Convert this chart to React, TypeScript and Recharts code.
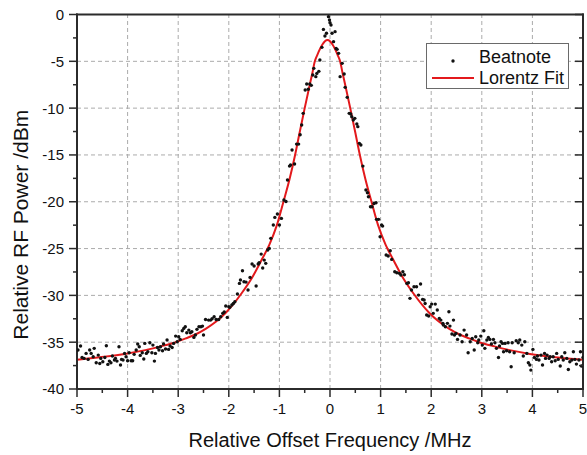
import {
  ComposedChart,
  Legend,
  Line,
  ReferenceLine,
  Scatter,
  XAxis,
  YAxis,
} from "recharts";

type Pair = [number, number];

// tick positions (majors every 1 MHz / 5 dB, minors in between)
const xTicks = [-5, -4.5, -4, -3.5, -3, -2.5, -2, -1.5, -1, -0.5, 0, 0.5, 1, 1.5, 2, 2.5, 3, 3.5, 4, 4.5, 5];
const yTicks = [-40, -37.5, -35, -32.5, -30, -27.5, -25, -22.5, -20, -17.5, -15, -12.5, -10, -7.5, -5, -2.5, 0];
const xGrid = [-4, -3, -2, -1, 0, 1, 2, 3, 4];
const yGrid = [-35, -30, -25, -20, -15, -10, -5];

const leftTail: Pair[] = [
  [-4.98, -35.84], [-4.93, -35.41], [-4.9, -36.63], [-4.86, -36.73], [-4.82, -36.2], [-4.78, -36.84],
  [-4.75, -35.84], [-4.72, -36.2], [-4.68, -36.55], [-4.66, -35.66], [-4.62, -37.2], [-4.58, -36.38],
  [-4.55, -37.27], [-4.53, -36.73], [-4.49, -37.09], [-4.45, -36.63], [-4.42, -35.38], [-4.39, -37.37],
  [-4.36, -37.02], [-4.33, -37.2], [-4.3, -36.48], [-4.26, -36.91], [-4.24, -36.73], [-4.21, -37.02],
  [-4.17, -35.49], [-4.14, -37.44], [-4.12, -36.84], [-4.09, -36.91], [-4.06, -36.2], [-4.03, -36.55],
  [-4.0, -36.98], [-3.97, -36.13], [-3.93, -36.98], [-3.9, -36.98], [-3.87, -36.3], [-3.83, -35.84],
  [-3.8, -35.2], [-3.77, -35.49], [-3.75, -36.41], [-3.71, -36.13], [-3.68, -36.8], [-3.66, -35.13],
  [-3.63, -36.2], [-3.6, -36.02], [-3.56, -35.06], [-3.52, -36.13], [-3.5, -35.31], [-3.47, -37.02],
  [-3.45, -36.2], [-3.41, -35.56], [-3.38, -35.84], [-3.35, -35.49], [-3.31, -35.91], [-3.29, -35.2],
  [-3.25, -35.73], [-3.22, -34.77], [-3.19, -35.77], [-3.16, -35.41], [-3.12, -35.56], [-3.09, -35.13],
  [-3.05, -34.35], [-3.02, -34.95], [-2.99, -34.42], [-2.96, -34.7], [-2.92, -33.78], [-2.89, -33.53],
  [-2.86, -33.35], [-2.83, -33.99], [-2.79, -33.71], [-2.76, -33.99], [-2.73, -33.88], [-2.69, -34.49],
  [-2.66, -34.24], [-2.63, -33.63], [-2.59, -33.35], [-2.55, -33.35], [-2.52, -33.28], [-2.5, -34.24],
  [-2.46, -32.57],
];

const leftSlope: Pair[] = [
  [-2.4, -32.64], [-2.36, -32.64], [-2.33, -32.49], [-2.29, -32.28], [-2.25, -32.57], [-2.2, -32.57],
  [-2.16, -32.28], [-2.12, -31.92], [-2.09, -31.78], [-2.06, -31.14], [-2.03, -32.35], [-2.0, -31.21],
  [-1.98, -31.28], [-1.94, -31.03], [-1.91, -30.86], [-1.88, -30.68], [-1.83, -29.86], [-1.79, -28.72],
  [-1.77, -28.36], [-1.73, -27.37], [-1.7, -28.54], [-1.66, -28.58], [-1.62, -29.43], [-1.58, -28.08],
  [-1.54, -26.65], [-1.5, -26.87], [-1.46, -29.0], [-1.42, -26.65], [-1.4, -26.51], [-1.36, -25.59],
  [-1.33, -27.08], [-1.3, -26.23], [-1.27, -26.58], [-1.23, -25.16], [-1.2, -24.98],
];

const peak: Pair[] = [
  [-1.17, -23.91], [-1.12, -22.49], [-1.09, -21.67], [-1.04, -21.31], [-1.0, -22.49], [-0.96, -21.78],
  [-0.91, -19.82], [-0.87, -19.98], [-0.84, -17.68], [-0.8, -16.19], [-0.78, -16.08], [-0.75, -14.48],
  [-0.7, -15.97], [-0.66, -13.84], [-0.62, -13.84], [-0.59, -12.84], [-0.56, -11.81], [-0.53, -10.56],
  [-0.49, -8.07], [-0.46, -7.43], [-0.43, -7.98], [-0.4, -7.43], [-0.37, -7.57], [-0.34, -6.46],
  [-0.32, -5.75], [-0.28, -6.64], [-0.26, -6.29], [-0.22, -6.07], [-0.2, -4.86], [-0.16, -3.51],
  [-0.13, -1.59], [-0.1, -2.3], [-0.07, -2.01], [-0.03, -0.23], [-0.01, -0.59], [0.0, -0.87],
  [0.02, -1.12], [0.04, -2.01], [0.07, -2.9], [0.1, -1.83], [0.12, -3.62], [0.14, -3.72],
  [0.17, -4.15], [0.2, -6.64], [0.24, -5.22], [0.28, -6.36], [0.3, -7.78], [0.34, -8.85],
  [0.38, -10.56], [0.41, -10.63], [0.43, -10.92], [0.46, -11.27], [0.49, -11.09], [0.53, -11.7],
  [0.55, -11.98], [0.58, -13.76], [0.61, -13.94], [0.65, -16.19], [0.71, -18.75], [0.74, -19.04],
  [0.76, -19.46], [0.8, -20.53], [0.83, -20.53], [0.87, -20.18], [0.91, -20.1], [0.92, -21.88],
  [0.96, -21.88], [0.99, -23.74], [1.02, -22.49], [1.04, -22.6],
];

const rightSlope: Pair[] = [
  [1.11, -25.69], [1.15, -25.8], [1.19, -25.23], [1.22, -26.16], [1.28, -27.47], [1.32, -27.58],
  [1.37, -27.65], [1.4, -27.83], [1.44, -27.47], [1.47, -27.79], [1.52, -28.72], [1.55, -28.65],
  [1.58, -30.32], [1.61, -29.43], [1.66, -29.08], [1.71, -29.08], [1.75, -29.97], [1.79, -28.79],
  [1.83, -30.43], [1.86, -30.5], [1.88, -30.86], [1.91, -32.1], [1.95, -32.21], [1.98, -31.21],
  [2.01, -30.93], [2.04, -31.92], [2.08, -30.93], [2.12, -31.57], [2.16, -32.46], [2.19, -32.64],
  [2.23, -32.99], [2.24, -33.17], [2.28, -33.35], [2.32, -32.99], [2.35, -31.75], [2.37, -33.28],
  [2.41, -34.13], [2.44, -32.64], [2.46, -34.24],
];

const rightTail: Pair[] = [
  [2.49, -34.06], [2.52, -34.7], [2.57, -34.24], [2.61, -34.95], [2.65, -33.71], [2.7, -34.24],
  [2.73, -36.13], [2.77, -34.95], [2.81, -34.6], [2.85, -35.84], [2.88, -34.42], [2.92, -35.06],
  [2.94, -34.77], [2.98, -34.35], [3.01, -35.31], [3.04, -33.78], [3.06, -35.66], [3.1, -34.77],
  [3.13, -34.49], [3.16, -34.7], [3.19, -35.2], [3.23, -34.7], [3.26, -35.06], [3.29, -35.66],
  [3.33, -36.63], [3.35, -35.41], [3.38, -34.95], [3.41, -35.13], [3.43, -36.02], [3.46, -35.13],
  [3.49, -35.91], [3.52, -35.06], [3.55, -36.02], [3.58, -37.62], [3.6, -35.06], [3.64, -36.13],
  [3.68, -34.84], [3.72, -35.06], [3.75, -34.77], [3.79, -35.31], [3.82, -36.48], [3.85, -34.95],
  [3.89, -36.2], [3.92, -37.2], [3.95, -37.44], [3.97, -37.98], [4.01, -35.77], [4.04, -36.63],
  [4.08, -36.84], [4.1, -36.48], [4.13, -36.91], [4.17, -36.38], [4.2, -37.44], [4.24, -36.2],
  [4.26, -36.73], [4.29, -36.38], [4.33, -36.73], [4.35, -36.55], [4.38, -37.09], [4.41, -36.55],
  [4.45, -36.98], [4.48, -36.2], [4.51, -36.84], [4.55, -37.55], [4.58, -36.55], [4.61, -36.91],
  [4.64, -36.13], [4.68, -36.73], [4.71, -37.91], [4.74, -37.09], [4.78, -36.91], [4.81, -36.02],
  [4.84, -36.84], [4.87, -37.34], [4.92, -36.91], [4.95, -36.02], [4.97, -37.55], [5.0, -36.63],
];

// Lorentz fit curve
const fitX = [
  -5, -4.55, -4.05, -3.65, -3.35, -3.05, -2.85, -2.65, -2.45, -2.25, -2.05, -1.75, -1.55, -1.35, -1.2,
  -1.05, -0.92, -0.8, -0.69, -0.6, -0.5, -0.4, -0.35, -0.3, -0.25, -0.15, -0.1, -0.05, 0, 0.05, 0.15,
  0.2, 0.25, 0.3, 0.4, 0.5, 0.59, 0.7, 0.82, 0.95, 1.1, 1.25, 1.45, 1.65, 1.95, 2.15, 2.35, 2.55, 2.75,
  2.95, 3.25, 3.55, 3.95, 4.45, 5,
];
const fitY = [
  -36.87, -36.6, -36.25, -35.85, -35.45, -35.0, -34.6, -34.15, -33.55, -32.8, -31.8, -29.8, -28.2, -26.2, -24.6,
  -22.5, -20.0, -17.6, -15.0, -12.6, -10.0, -7.5, -6.3, -5.0, -4.3, -3.2, -2.85, -2.72, -2.85, -3.2, -4.3,
  -5.0, -6.3, -7.5, -10.0, -12.6, -15.0, -17.6, -20.0, -22.5, -24.6, -26.2, -28.2, -29.8, -31.8, -32.8, -33.55, -34.15, -34.6,
  -35.0, -35.45, -35.85, -36.25, -36.6, -36.87,
];

const beatnote = [...leftTail, ...leftSlope, ...peak, ...rightSlope, ...rightTail].map(([x, y]) => ({ x, y }));
const fit = fitX.map((x, i) => ({ x, y: fitY[i] }));

const FONT = "'Liberation Sans', Arial, sans-serif";
const FRAME = "#2b2b2b";
const TEXT = "#111";
const RED = "#e3191c";

const isMajor = (v: number) => Number.isInteger(v);

function BottomTick({ x, y, payload }: any) {
  const major = isMajor(payload.value);
  return (
    <g>
      <line x1={x} x2={x} y1={y} y2={y + (major ? 8 : 4)} stroke={FRAME} strokeWidth={1.5} />
      {major && (
        <text x={x} y={y + 25} textAnchor="middle" fontSize={15} fontFamily={FONT} fill={TEXT}>
          {payload.value}
        </text>
      )}
    </g>
  );
}

function TopTick({ x, y, payload }: any) {
  const major = isMajor(payload.value);
  return <line x1={x} x2={x} y1={y} y2={y + (major ? 8 : 4)} stroke={FRAME} strokeWidth={1.5} />;
}

function LeftTick({ x, y, payload }: any) {
  const major = payload.value % 5 === 0;
  return (
    <g>
      <line x1={x} x2={x - (major ? 8 : 4)} y1={y} y2={y} stroke={FRAME} strokeWidth={1.5} />
      {major && (
        <text x={x - 13} y={y} dy="0.36em" textAnchor="end" fontSize={15} fontFamily={FONT} fill={TEXT}>
          {payload.value}
        </text>
      )}
    </g>
  );
}

function RightTick({ x, y, payload }: any) {
  const major = payload.value % 5 === 0;
  return <line x1={x} x2={x - (major ? 8 : 4)} y1={y} y2={y} stroke={FRAME} strokeWidth={1.5} />;
}

function YTitle({ viewBox }: any) {
  const cx = viewBox.x + 28;
  const cy = viewBox.y + viewBox.height / 2 + 23;
  return (
    <text
      x={cx}
      y={cy}
      transform={`rotate(-90 ${cx} ${cy})`}
      textAnchor="middle"
      fontSize={21}
      fontFamily={FONT}
      fill={TEXT}
    >
      Relative RF Power /dBm
    </text>
  );
}

function XTitle({ viewBox }: any) {
  return (
    <text
      x={viewBox.x + viewBox.width / 2}
      y={viewBox.y + viewBox.height - 8}
      textAnchor="middle"
      fontSize={20}
      fontFamily={FONT}
      fill={TEXT}
    >
      Relative Offset Frequency /MHz
    </text>
  );
}

function LegendBox({ payload }: any) {
  const items = payload || [];
  const dot = items.find((p: any) => p.type === "circle");
  const line = items.find((p: any) => p.type === "line");
  return (
    <svg width={143} height={46} style={{ display: "block" }}>
      <rect x={0.5} y={0.5} width={142} height={45} fill="#fff" stroke="#6a6a6a" />
      {dot && (
        <g>
          <circle cx={27} cy={18} r={1.7} fill={TEXT} />
          <text x={53} y={20} fontSize={18} fontFamily={FONT} fill={TEXT}>{dot.value}</text>
        </g>
      )}
      {line && (
        <g>
          <line x1={6} x2={48} y1={35} y2={35} stroke={RED} strokeWidth={1.8} />
          <text x={53} y={41} fontSize={18} fontFamily={FONT} fill={TEXT}>{line.value}</text>
        </g>
      )}
    </svg>
  );
}

const axisLine = { stroke: FRAME, strokeWidth: 2, strokeLinecap: "square" as const };

export default function App() {
  return (
    <div style={{ position: "absolute", left: 0, top: 0, width: 587, height: 455, background: "#fff", fontFamily: FONT }}>
      <ComposedChart width={587} height={455} margin={{ top: 0, right: 0, bottom: 0, left: 0 }}>
        {xGrid.map((v) => (
          <ReferenceLine key={`gx${v}`} x={v} stroke="#ababab" strokeDasharray="4 3" strokeWidth={1} />
        ))}
        {yGrid.map((v) => (
          <ReferenceLine key={`gy${v}`} y={v} stroke="#ababab" strokeDasharray="4 3" strokeWidth={1} />
        ))}
        <XAxis
          dataKey="x"
          type="number"
          domain={[-5, 5]}
          ticks={xTicks}
          interval={0}
          allowDataOverflow
          height={66}
          axisLine={axisLine}
          tickLine={false}
          tickSize={0}
          tickMargin={0}
          tick={<BottomTick />}
          label={<XTitle />}
        />
        <XAxis
          xAxisId="top"
          orientation="top"
          type="number"
          domain={[-5, 5]}
          ticks={xTicks}
          interval={0}
          allowDataOverflow
          height={14.5}
          axisLine={axisLine}
          tickLine={false}
          tickSize={0}
          tickMargin={0}
          tick={<TopTick />}
        />
        <YAxis
          dataKey="y"
          type="number"
          domain={[-40, 0]}
          ticks={yTicks}
          interval={0}
          allowDataOverflow
          width={77}
          axisLine={axisLine}
          tickLine={false}
          tickSize={0}
          tickMargin={0}
          tick={<LeftTick />}
          label={<YTitle />}
        />
        <YAxis
          yAxisId="right"
          orientation="right"
          type="number"
          domain={[-40, 0]}
          ticks={yTicks}
          interval={0}
          allowDataOverflow
          width={4}
          axisLine={axisLine}
          tickLine={false}
          tickSize={0}
          tickMargin={0}
          tick={<RightTick />}
        />
        <Scatter
          name="Beatnote"
          data={beatnote}
          fill={TEXT}
          legendType="circle"
          isAnimationActive={false}
          shape={(p: any) => <circle cx={p.cx} cy={p.cy} r={1.7} fill={TEXT} />}
        />
        <Line
          name="Lorentz Fit"
          data={fit}
          dataKey="y"
          type="monotone"
          stroke={RED}
          strokeWidth={2}
          dot={false}
          activeDot={false}
          legendType="line"
          isAnimationActive={false}
        />
        <Legend
          layout="vertical"
          align="center"
          verticalAlign="middle"
          wrapperStyle={{ position: "absolute", left: 426, top: 43, width: 143, height: 46 }}
          content={<LegendBox />}
        />
      </ComposedChart>
    </div>
  );
}
